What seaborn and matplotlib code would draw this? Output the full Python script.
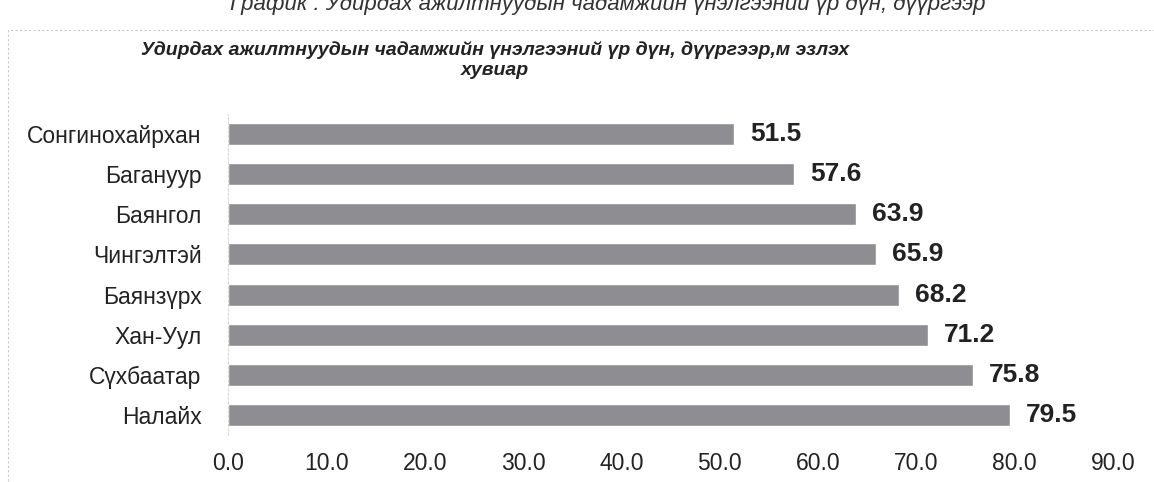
import matplotlib
matplotlib.use("Agg")
import matplotlib.pyplot as plt
import seaborn as sns
import pandas as pd
from matplotlib.patches import Rectangle

districts = ["Сонгинохайрхан", "Багануур", "Баянгол", "Чингэлтэй",
             "Баянзүрх", "Хан-Уул", "Сүхбаатар", "Налайх"]
scores = [51.5, 57.6, 63.9, 65.9, 68.2, 71.2, 75.8, 79.5]
xticks = [0, 10, 20, 30, 40, 50, 60, 70, 80, 90]

top_title = "График . Удирдах ажилтнуудын чадамжийн үнэлгээний үр дүн, дүүргээр"
chart_title = "Удирдах ажилтнуудын чадамжийн үнэлгээний үр дүн, дүүргээр,м эзлэх\nхувиар"

df = pd.DataFrame({"district": districts, "score": scores})

sns.set_style("white")
plt.rcParams['font.family'] = ['Liberation Sans', 'DejaVu Sans']

fig = plt.figure(figsize=(11.54, 4.82), dpi=100)
ax = fig.add_axes([228 / 1154, 0.0975, 885 / 1154, 0.666])

sns.barplot(data=df, x="score", y="district", orient="h", color="#8e8e92",
            saturation=1, width=0.55, ax=ax)

for i, v in enumerate(scores):
    ax.annotate(f"{v:.1f}", (v, i), xytext=(11.5, 0), textcoords="offset points",
                va="center", ha="left", fontsize=19, fontweight="bold", color="#222222")

ax.set_xlim(0, 90)
ax.set_ylim(7.5, -0.5)
ax.set_xticks(xticks)
ax.set_xticklabels([f"{t:.1f}" for t in xticks])
ax.tick_params(axis="x", labelsize=16.5, pad=12, length=0, colors="#222222")
ax.tick_params(axis="y", labelsize=16.5, pad=19, length=0, colors="#222222")
ax.set_xlabel("")
ax.set_ylabel("")
for s in ["top", "right", "bottom"]:
    ax.spines[s].set_visible(False)
ax.spines["left"].set_color("#d8d8d8")
ax.spines["left"].set_linewidth(0.8)
ax.spines["left"].set_linestyle((0, (2, 2)))

# frame of the chart box
fig.patches.append(Rectangle((8 / 1154, -0.01), 1.2, 1 - 30 / 482 + 0.01,
                             transform=fig.transFigure, fill=False,
                             edgecolor="#c8c8c8", linewidth=0.8, linestyle=(0, (2, 2))))

fig.text(495 / 1154, 1 - 60 / 482, chart_title, ha="center", va="center",
         fontsize=14, fontweight="bold", fontstyle="italic", color="#222222",
         linespacing=1.25)
fig.text(608 / 1154, 1 - 4 / 482, top_title, ha="center", va="center",
         fontsize=16, fontstyle="italic", color="#333333")

fig.savefig("out.png", dpi=100)
